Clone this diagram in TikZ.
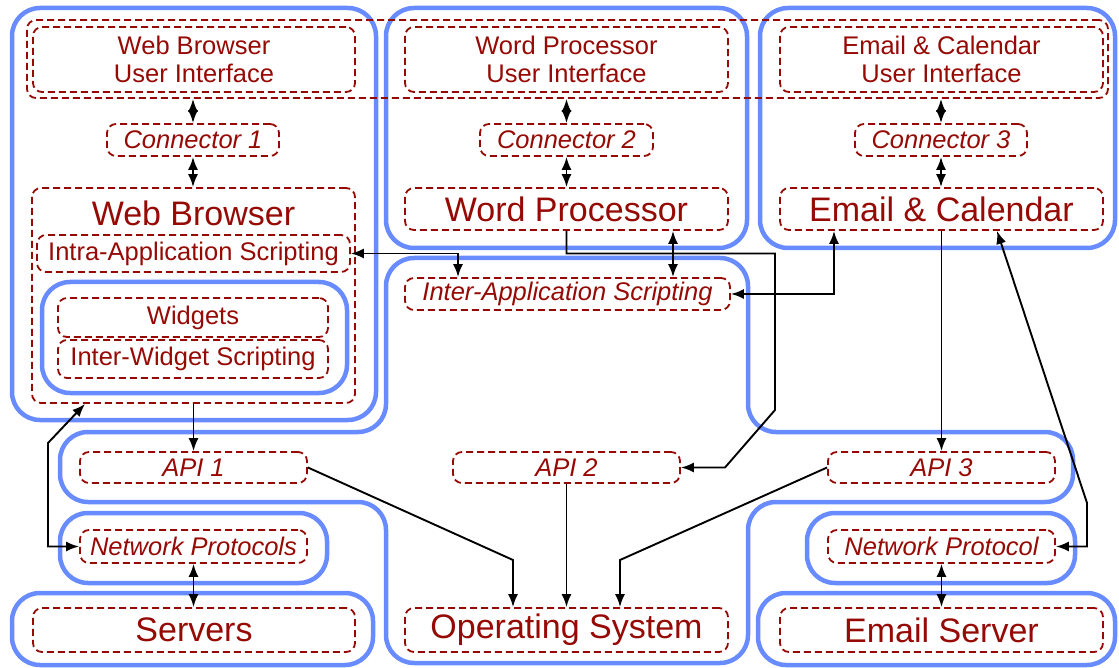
\documentclass[tikz,border=0pt]{standalone}
\usepackage{fontspec}
\setmainfont{Liberation Sans}
\usetikzlibrary{arrows.meta}
\definecolor{dred}{RGB}{150,10,5}
\definecolor{lblue}{RGB}{104,140,255}
\newcommand\lblmed{\fontsize{25.5}{28}\selectfont}
\newcommand\lblbig{\fontsize{34}{38}\selectfont}

\begin{document}
\begin{tikzpicture}[x=1pt,y=-1pt,
  region/.style={draw=lblue, line width=4.5pt, rounded corners=28pt},
  dbox/.style={draw=dred, line width=1.8pt, dash pattern=on 7pt off 4pt,
    rounded corners=9pt, inner sep=0pt, text=dred, font=\lblmed, align=center},
  big/.style={font=\lblbig},
  conn/.style={draw=black, line width=1.9pt},
  one/.style={conn, -{Latex[length=13pt,width=10pt]}},
  both/.style={conn, {Latex[length=13pt,width=10pt]}-{Latex[length=13pt,width=10pt]}}
]
\fill[white] (0,0) rectangle (1119,668);
\useasboundingbox (0,0) rectangle (1119,668);

% application and platform regions
\draw[region] (12,8) rectangle (376,420);
\draw[region] (386,8) rectangle (747,248);
\draw[region] (760,8) rectangle (1115,248);
\draw[region] (42,282) rectangle (347,393);
\draw[region] (560,258) -- (748,258) -- (748,432) -- (1073,432) -- (1073,502)
  -- (748,502) -- (748,663) -- (386,663) -- (386,502) -- (60,502) -- (60,432)
  -- (386,432) -- (386,258) -- cycle;
\draw[region] (60,513) rectangle (327,583);
\draw[region] (807,513) rectangle (1075,583);
\draw[region] (12,593) rectangle (373,665);
\draw[region] (758,593) rectangle (1115,665);

% user interface row
\node[dbox, minimum width=1081pt, minimum height=78pt] (uirow) at (567.5,59) {};
\node[dbox, minimum width=322pt, minimum height=65pt] (ui1) at (194,59.5) {Web Browser\\User Interface};
\node[dbox, minimum width=323pt, minimum height=65pt] (ui2) at (566.5,59.5) {Word Processor\\User Interface};
\node[dbox, minimum width=323pt, minimum height=65pt] (ui3) at (941.5,59.5) {Email \& Calendar\\User Interface};

% connectors
\node[dbox, font=\lblmed\itshape, minimum width=172pt, minimum height=32pt] (con1) at (193,140) {Connector 1};
\node[dbox, font=\lblmed\itshape, minimum width=173pt, minimum height=32pt] (con2) at (566.5,140) {Connector 2};
\node[dbox, font=\lblmed\itshape, minimum width=172pt, minimum height=32pt] (con3) at (941,140) {Connector 3};

% web browser internals
\node[dbox, minimum width=323pt, minimum height=215pt] (wb) at (193.5,295.5) {};
\node[text=dred, font=\lblbig, inner sep=0pt] (wblbl) at (193.5,213) {Web Browser};
\node[dbox, minimum width=313pt, minimum height=37pt] (intra) at (193.5,253.5) {Intra-Application Scripting};
\node[dbox, minimum width=270pt, minimum height=39pt] (widg) at (193,317.5) {Widgets};
\node[dbox, minimum width=270pt, minimum height=38pt] (iws) at (193,359) {Inter-Widget Scripting};

% other applications
\node[dbox, big, minimum width=323pt, minimum height=42pt] (wp) at (566.5,209) {Word Processor};
\node[dbox, big, minimum width=323pt, minimum height=42pt] (ec) at (941.5,209) {Email \& Calendar};
\node[dbox, font=\lblmed\itshape, minimum width=325pt, minimum height=32pt] (inter) at (567.5,294) {Inter-Application Scripting};

% APIs
\node[dbox, font=\lblmed\itshape, minimum width=227pt, minimum height=31pt] (api1) at (193.5,467.5) {API 1};
\node[dbox, font=\lblmed\itshape, minimum width=227pt, minimum height=31pt] (api2) at (566.5,467.5) {API 2};
\node[dbox, font=\lblmed\itshape, minimum width=227pt, minimum height=31pt] (api3) at (941.5,467.5) {API 3};

% network and system layer
\node[dbox, font=\lblmed\itshape, minimum width=227pt, minimum height=33pt] (np1) at (193.5,546.5) {Network Protocols};
\node[dbox, font=\lblmed\itshape, minimum width=227pt, minimum height=33pt] (np2) at (941.5,546.5) {Network Protocol};
\node[dbox, big, minimum width=322pt, minimum height=44pt] (srv) at (194,630) {Servers};
\node[dbox, big, minimum width=323pt, minimum height=44pt] (os) at (566.5,630) {Operating System};
\node[dbox, big, minimum width=323pt, minimum height=44pt] (es) at (941.5,630) {Email Server};

% bend points
\coordinate (k1) at (458,253.5);
\coordinate (k2) at (775,253.5);
\coordinate (k3) at (775,410);
\coordinate (k4) at (725,467.5);
\coordinate (kwp) at (673,0);
\coordinate (k6) at (834,294);
\coordinate (k7) at (1087,503);
\coordinate (kec) at (997,0);
\coordinate (k9) at (48,443);
\coordinate (kwb) at (85,0);
\coordinate (k11) at (513,560);
\coordinate (k12) at (620,560);

% UI to connectors to applications
\draw[both] (con1.north |- uirow.south) -- (con1.north);
\draw[both] (con1.south) -- (con1.south |- wb.north);
\draw[both] (con2.north |- uirow.south) -- (con2.north);
\draw[both] (con2.south) -- (con2.south |- wp.north);
\draw[both] (con3.north |- uirow.south) -- (con3.north);
\draw[both] (con3.south) -- (con3.south |- ec.north);

% scripting links
\draw[both] (intra.east) -- (k1) -- (k1 |- inter.north);
\draw[both] (wp.south -| kwp) -- (inter.north -| kwp);
\draw[both] (ec.south -| k6) |- (inter.east);
\draw[one] (wp.south) |- (k2) -- (k3) -- (k4) -- (api2.east);

% application to API and network links
\draw[one] (wb.south) -- (api1.north);
\draw[one] (ec.south) -- (api3.north);
\draw[both] (wb.south -| kwb) -- (k9) |- (np1.west);
\draw[both] (ec.south -| kec) -- (k7) |- (np2.east);

% APIs to operating system
\draw[one] (api1.east) -- (k11) -- (os.north -| k11);
\draw[one] (api2.south) -- (os.north);
\draw[one] (api3.west) -- (k12) -- (os.north -| k12);

% network protocols to servers
\draw[both] (np1.south) -- (srv.north -| np1.south);
\draw[both] (np2.south) -- (es.north -| np2.south);
\end{tikzpicture}
\end{document}
